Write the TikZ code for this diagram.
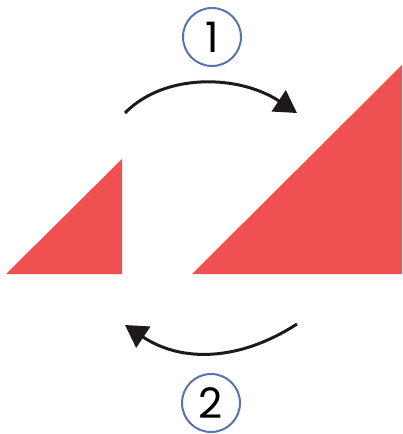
\documentclass[tikz,border=0pt]{standalone}
\usepackage{fontspec}
\setmainfont{Poppins}
\usetikzlibrary{arrows.meta}
\definecolor{tri}{HTML}{EF5052}
\definecolor{ring}{HTML}{5A72B2}
\definecolor{ink}{HTML}{1E1A1A}
\tikzset{
  stepnum/.style={circle, draw=ring, line width=2pt, minimum size=58pt, inner sep=0pt,
    font=\fontsize{42}{42}\selectfont, text=black},
  turn/.style={draw=ink, line width=3pt, -{Triangle[length=22pt,width=25pt]}},
  piece/.style={fill=tri, draw=none}
}
\begin{document}
\begin{tikzpicture}[x=1pt,y=-1pt]
\useasboundingbox (0,0) rectangle (402,434);
\fill[piece] (6,274) -- (122,159) -- (122,274) -- cycle;
\fill[piece] (192,274) -- (402,65) -- (402,274) -- cycle;
\node[stepnum] (one) at (212,37) {1};
\node[stepnum] (two) at (211,403) {2};
\coordinate (a1s) at (125,113);
\coordinate (a1e) at (297,113);
\coordinate (a2s) at (297,324);
\coordinate (a2e) at (125,325);
\draw[turn] (a1s) .. controls (165,72) and (240,75) .. (a1e);
\draw[turn] (a2s) .. controls (240,361) and (182,363) .. (a2e);
\end{tikzpicture}
\end{document}
